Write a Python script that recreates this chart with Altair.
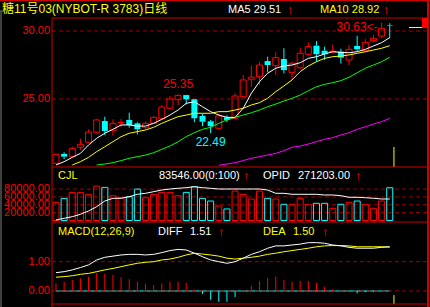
import altair as alt
import pandas as pd

# ---------------- data ----------------
title_text = "糖11号03(NYBOT-R 3783)日线"
ma5_text = "MA5 29.51"
ma10_text = "MA10 28.92"
arrow = "↑"
vol_title = "CJL"
vol_value_text = "83546.00(0:100)"
opid_title = "OPID"
opid_value_text = "271203.00"
macd_title = "MACD(12,26,9)"
diff_title = "DIFF"
diff_value_text = "1.51"
dea_title = "DEA"
dea_value_text = "1.50"

idx = list(range(42))
open_ = [20.27, 20.96, 20.76, 21.45, 21.82, 22.55, 23.38, 22.67, 23.24, 23.46,
         23.21, 22.89, 23.21, 23.55, 24.32, 24.95, 25.29, 24.98, 23.75, 23.36,
         22.85, 23.65, 23.58, 25.17, 26.45, 26.64, 27.79, 27.45, 27.94, 26.96,
         27.30, 28.29, 28.92, 28.55, 28.45, 28.48, 27.87, 28.90, 28.55, 29.29,
         29.63, 30.41]
high = [20.95, 21.08, 21.49, 22.08, 22.77, 23.55, 23.70, 23.51, 23.55, 24.00,
        23.30, 23.35, 23.74, 24.54, 25.22, 25.35, 25.30, 25.00, 23.90, 23.46,
        23.90, 23.80, 25.42, 26.76, 27.45, 27.74, 28.11, 28.43, 28.73, 27.74,
        28.77, 29.16, 29.26, 28.85, 29.00, 28.70, 28.97, 29.65, 29.40, 29.70,
        30.63, 30.57]
low = [20.25, 20.59, 20.70, 21.25, 21.80, 22.50, 22.35, 22.30, 22.92, 22.89,
       22.40, 22.77, 23.20, 23.51, 24.30, 24.55, 24.60, 23.29, 23.00, 22.49,
       22.80, 23.30, 23.50, 25.10, 25.90, 26.03, 26.96, 26.76, 26.89, 26.40,
       27.20, 28.20, 27.74, 27.87, 28.35, 27.60, 27.50, 28.50, 28.40, 29.20,
       29.50, 29.46]
close = [20.93, 20.76, 21.37, 21.67, 22.57, 23.46, 22.65, 23.21, 23.27, 23.09,
         22.77, 23.21, 23.65, 24.41, 25.00, 25.25, 24.98, 23.58, 23.33, 23.01,
         23.75, 23.46, 25.22, 26.40, 26.60, 27.50, 27.50, 28.04, 27.13, 27.63,
         28.36, 28.85, 28.29, 28.29, 28.52, 28.04, 28.65, 28.65, 29.17, 29.46,
         30.20, 30.37]
ma5 = [20.15, 20.39, 20.71, 21.00, 21.62, 22.11, 22.48, 22.77, 23.09, 23.09,
       23.01, 23.01, 23.21, 23.50, 23.82, 24.19, 24.68, 24.80, 24.43, 24.07,
       23.82, 23.65, 23.65, 24.32, 25.42, 26.27, 26.89, 27.26, 27.43, 27.50,
       27.67, 27.99, 28.11, 28.31, 28.48, 28.43, 28.40, 28.48, 28.65, 28.90,
       29.14, 29.51]
ma10 = [None, None, 20.15, 20.39, 20.71, 21.13, 21.49, 21.86, 22.23, 22.48,
        22.60, 22.72, 22.92, 23.21, 23.46, 23.70, 23.82, 23.95, 23.95, 23.95,
        24.07, 24.07, 24.19, 24.32, 24.56, 24.73, 25.05, 25.54, 25.96, 26.40,
        27.01, 27.43, 27.74, 27.99, 28.11, 28.16, 28.24, 28.36, 28.48, 28.60,
        28.73, 28.92]
ma20 = [None, None, None, None, None, 20.15, 20.22, 20.32, 20.47, 20.64,
        20.76, 20.88, 21.05, 21.30, 21.54, 21.86, 22.23, 22.52, 22.77, 22.92,
        23.21, 23.46, 23.65, 23.82, 23.99, 24.19, 24.43, 24.63, 24.85, 25.05,
        25.29, 25.61, 25.90, 26.08, 26.20, 26.35, 26.60, 26.93, 27.26, 27.50,
        27.74, 28.07]
ma60 = [None] * 20 + [20.12, 20.22, 20.32, 20.47, 20.64, 20.76, 20.88, 21.00, 21.20, 21.45,
                      21.54, 21.69, 21.86, 22.04, 22.16, 22.35, 22.52, 22.77, 22.96, 23.16,
                      23.33, 23.58]
vol = [46300, 56400, 71600, 71600, 66600, 87600, 84300, 63000, 58000, 60500,
       80000, 58000, 66600, 71600, 71600, 63000, 71600, 85800, 56400, 49600,
       37000, 29400, 74900, 66600, 54700, 74900, 56400, 54700, 41300, 41300,
       56400, 41300, 43800, 43800, 31100, 41300, 46300, 49600, 41300, 31100,
       49600, 83546]
opid = [200000, 205800, 211200, 219300, 230500, 245100, 264400, 273600, 273600, 279000,
        287100, 290500, 296000, 301700, 305100, 307500, 309500, 312900, 309500, 307500,
        305100, 305100, 305100, 305100, 305100, 305100, 301700, 290500, 290500, 287100,
        287100, 287100, 287100, 284800, 284800, 282400, 277000, 277000, 275600, 273600,
        271203, 271203]
diff = [0.625, 0.66, 0.72, 0.80, 0.89, 1.06, 1.15, 1.19, 1.23, 1.25,
        1.25, 1.23, 1.25, 1.31, 1.38, 1.42, 1.40, 1.29, 1.17, 1.06,
        1.00, 0.945, 1.00, 1.12, 1.25, 1.34, 1.46, 1.54, 1.54, 1.57,
        1.60, 1.65, 1.65, 1.63, 1.57, 1.54, 1.49, 1.46, 1.46, 1.46,
        1.49, 1.51]
dea = [0.47, 0.49, 0.52, 0.57, 0.60, 0.66, 0.72, 0.77, 0.83, 0.89,
       0.945, 0.98, 1.00, 1.06, 1.09, 1.15, 1.23, 1.29, 1.26, 1.23,
       1.19, 1.12, 1.09, 1.12, 1.15, 1.19, 1.25, 1.29, 1.34, 1.38,
       1.42, 1.46, 1.51, 1.54, 1.55, 1.55, 1.54, 1.51, 1.51, 1.51,
       1.51, 1.50]
macd = [0.26, 0.32, 0.375, 0.43, 0.49, 0.62, 0.58, 0.55, 0.47, 0.40,
        0.32, 0.24, 0.20, 0.26, 0.32, 0.32, 0.28, 0.06, -0.10, -0.30,
        -0.37, -0.37, -0.21, -0.02, 0.18, 0.34, 0.45, 0.49, 0.375, 0.32,
        0.34, 0.34, 0.28, 0.15, 0.07, -0.01, -0.02, -0.08, -0.04, -0.03,
        -0.01, 0.01]

price_ticks = [30.0, 25.0]
price_labels = ["30.00", "25.00"]
vol_ticks = [80000, 60000, 40000, 20000]
vol_labels = ["80000.00", "60000.00", "40000.00", "20000.00"]
macd_ticks = [1.0, 0.0]
macd_labels = ["1.00", "0.00"]

hi_mark_i, hi_mark_v, hi_mark_t = [15], [25.35], ["25.35"]
lo_mark_i, lo_mark_v, lo_mark_t = [19], [22.49], ["22.49"]
top_mark_i, top_mark_v, top_mark_t = [40], [30.63], ["30.63<-"]
cursor_i = [41.52]
cursor_price = [21.47]
cursor_macd = [-0.14]

# ---------------- styling ----------------
FONT = "Liberation Sans, Noto Sans CJK SC"
RED = "#ff0000"
BORDER = "#d00000"
GRID = "#a00000"
CYAN = "#00ffff"
YEL = "#ffff00"
WHITE = "#ffffff"
GREEN = "#00ff00"
MAG = "#ff00ff"
W, H = 375, 286
HALF = 0.37
FS = 11

xs = alt.Scale(domain=[-0.49, 45.58], nice=False, zero=False)
ps = alt.Scale(domain=[20.0, 30.956], range=[149, 0], nice=False, zero=False)
vs = alt.Scale(domain=[-3800, 136300], range=[204, 149], nice=False, zero=False)
os_ = alt.Scale(domain=[193200, 379700], range=[204, 149], nice=False, zero=False)
ms = alt.Scale(domain=[-0.444, 2.355], range=[286, 204], nice=False, zero=False)

df = pd.DataFrame(dict(i=idx, open=open_, high=high, low=low, close=close,
                       ma5=ma5, ma10=ma10, ma20=ma20, ma60=ma60, vol=vol,
                       opid=opid, diff=diff, dea=dea, macd=macd))
df["zero"] = 0.0

base = alt.Chart(df).transform_calculate(
    dir="datum.close >= datum.open ? 'up' : 'down'",
    top="max(datum.open, datum.close)",
    bot="min(datum.open, datum.close)",
    x0=f"datum.i - {HALF}",
    x1=f"datum.i + {HALF}",
    sgn="datum.macd >= 0 ? 'up' : 'down'",
)
X = alt.X("i:Q", scale=xs, axis=None)
X0 = alt.X("x0:Q", scale=xs, axis=None)
dir_scale = alt.Scale(domain=["up", "down"], range=[RED, CYAN])
col = alt.Color("dir:N", scale=dir_scale, legend=None)
colm = alt.Color("sgn:N", scale=dir_scale, legend=None)


def grid(ticks, labels, scale):
    d = alt.Chart(pd.DataFrame({"v": ticks, "lab": labels}))
    r = d.mark_rule(color=GRID, strokeDash=[4, 3], strokeWidth=1).encode(
        x=alt.value(0), x2=alt.value(W), y=alt.Y("v:Q", scale=scale, axis=None))
    t = d.mark_text(align="right", baseline="middle", font=FONT, fontSize=FS, color=RED).encode(
        x=alt.value(-2), y=alt.Y("v:Q", scale=scale, axis=None), text="lab:N")
    return [r, t]


def txt(s, color, x, y, size=FS, align="left"):
    return alt.Chart(pd.DataFrame({"t": [s]})).mark_text(
        align=align, baseline="middle", font=FONT, fontSize=size, color=color
    ).encode(x=alt.value(x), y=alt.value(y), text="t:N")


def hline(x1, x2, y, color, width=1):
    return alt.Chart(pd.DataFrame({"a": [0]})).mark_rule(color=color, strokeWidth=width).encode(
        x=alt.value(x1), x2=alt.value(x2), y=alt.value(y))


def vline(x, y1, y2, color, width=1):
    return alt.Chart(pd.DataFrame({"a": [0]})).mark_rule(color=color, strokeWidth=width).encode(
        x=alt.value(x), y=alt.value(y1), y2=alt.value(y2))


# ---------------- main price panel ----------------
Yp = lambda f: alt.Y(f, scale=ps, axis=None)
wick_u = base.mark_rule(strokeWidth=1).encode(x=X, y=Yp("high:Q"), y2="top:Q", color=col)
wick_l = base.mark_rule(strokeWidth=1).encode(x=X, y=Yp("bot:Q"), y2="low:Q", color=col)
body_dn = base.transform_filter("datum.dir == 'down'").mark_rect(color=CYAN).encode(
    x=X0, x2="x1:Q", y=Yp("open:Q"), y2="close:Q")
body_up = base.transform_filter("datum.dir == 'up'").mark_rect(
    filled=False, stroke=RED, strokeWidth=1).encode(x=X0, x2="x1:Q", y=Yp("open:Q"), y2="close:Q")


def ma_line(field, color):
    return base.transform_filter(f"isValid(datum.{field})").mark_line(
        color=color, strokeWidth=1).encode(x=X, y=Yp(f"{field}:Q"))


def ann(i, v, t, color, dy, align="center", dx=0):
    return alt.Chart(pd.DataFrame({"i": i, "v": v, "t": t})).mark_text(
        font=FONT, fontSize=12, color=color, dy=dy, dx=dx, align=align, baseline="middle"
    ).encode(x=alt.X("i:Q", scale=xs, axis=None), y=Yp("v:Q"), text="t:N")


cursor_main = alt.Chart(pd.DataFrame({"i": cursor_i, "v": cursor_price})).mark_rule(
    color=YEL).encode(x=alt.X("i:Q", scale=xs, axis=None), y=Yp("v:Q"), y2=alt.value(149))

main = alt.layer(
    *grid(price_ticks, price_labels, ps),
    wick_u, wick_l, body_dn, body_up,
    ma_line("ma60", MAG), ma_line("ma20", GREEN), ma_line("ma10", YEL), ma_line("ma5", WHITE),
    ann(hi_mark_i, hi_mark_v, hi_mark_t, RED, -10),
    ann(lo_mark_i, lo_mark_v, lo_mark_t, CYAN, 9),
    ann(top_mark_i, top_mark_v, top_mark_t, RED, 5, align="right", dx=-4),
    cursor_main,
)

# ---------------- volume panel ----------------
Yv = lambda f: alt.Y(f, scale=vs, axis=None)
vol_bars = base.mark_rect(filled=False, strokeWidth=1).encode(
    x=X0, x2="x1:Q", y=Yv("vol:Q"), y2="zero:Q",
    stroke=alt.Stroke("dir:N", scale=dir_scale, legend=None))
volp = alt.layer(*grid(vol_ticks, vol_labels, vs), vol_bars)
opid_l = base.mark_line(color=WHITE, strokeWidth=1).encode(x=X, y=alt.Y("opid:Q", scale=os_, axis=None))

# ---------------- MACD panel ----------------
Ym = lambda f: alt.Y(f, scale=ms, axis=None)
zero_cyan = alt.Chart(pd.DataFrame({"a": [idx[0]], "b": [idx[-1]], "z": [0.0]})).mark_rule(
    color=CYAN).encode(x=alt.X("a:Q", scale=xs, axis=None), x2="b:Q", y=Ym("z:Q"))
hist = base.mark_rule(strokeWidth=1).encode(x=X, y=Ym("macd:Q"), y2="zero:Q", color=colm)
diff_l = base.mark_line(color=WHITE, strokeWidth=1).encode(x=X, y=Ym("diff:Q"))
dea_l = base.mark_line(color=YEL, strokeWidth=1).encode(x=X, y=Ym("dea:Q"))
cursor_m = alt.Chart(pd.DataFrame({"i": cursor_i, "v": cursor_macd})).mark_rule(
    color=YEL).encode(x=alt.X("i:Q", scale=xs, axis=None), y=Ym("v:Q"), y2=alt.value(286))
macdp = alt.layer(zero_cyan, *grid(macd_ticks, macd_labels, ms), hist, dea_l, diff_l, cursor_m)

# ---------------- frame and header texts ----------------
frame = [
    hline(-52, 378, -17.5, BORDER, 1),
    hline(0, 376, 0, BORDER, 1),
    hline(0, 376, 149, BORDER, 1),
    hline(0, 376, 204, BORDER, 1),
    hline(0, 376, 286, BORDER, 1),
    vline(0, 0, 289, BORDER, 1),
    vline(376, -18, 289, BORDER, 2),
    vline(-51, -8, 289, "#808080", 1),
    alt.Chart(pd.DataFrame({"a": [0]})).mark_rect(color=RED).encode(
        x=alt.value(370), x2=alt.value(376), y=alt.value(0), y2=alt.value(10)),
    hline(357, 370, 9.5, YEL, 1),
]
AFS = 13
texts = [
    txt(title_text, YEL, -50, -9.5, size=12),
    txt(ma5_text, WHITE, 176, -8.5),
    txt(arrow, RED, 235, -8.5, size=AFS),
    txt(ma10_text, YEL, 268, -8.5),
    txt(arrow, RED, 331, -8.5, size=AFS),
    txt(vol_title, YEL, 6, 157.5),
    txt(vol_value_text, WHITE, 107, 157.5),
    txt(arrow, RED, 191, 157.5, size=AFS),
    txt(opid_title, WHITE, 211, 157.5),
    txt(opid_value_text, WHITE, 246, 157.5),
    txt(arrow, RED, 303, 157.5, size=AFS),
    txt(macd_title, YEL, 6, 213.5),
    txt(diff_title, WHITE, 106, 213.5),
    txt(diff_value_text, WHITE, 138, 213.5),
    txt(arrow, RED, 166, 213.5, size=AFS),
    txt(dea_title, YEL, 211, 213.5),
    txt(dea_value_text, YEL, 241, 213.5),
    txt(arrow, RED, 270, 213.5, size=AFS),
]

chart = alt.layer(main, volp, opid_l, macdp, *frame, *texts).resolve_scale(
    y="independent"
).properties(
    width=W, height=H,
    autosize=alt.AutoSizeParams(type="none"),
    padding={"left": 52, "top": 18, "right": 3, "bottom": 3},
    background="black",
).configure_view(stroke=None)

chart.save("out.html", embed_options={"renderer": "svg", "actions": False})
